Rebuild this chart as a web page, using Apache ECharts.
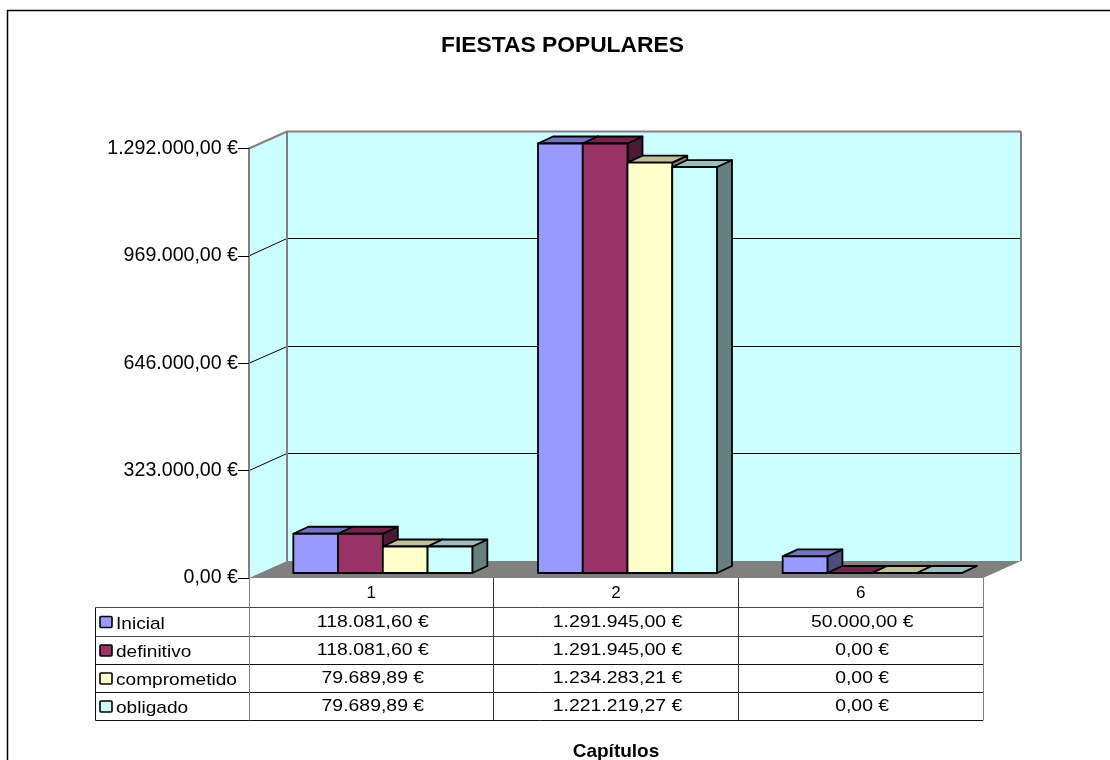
<!DOCTYPE html>
<html><head><meta charset="utf-8">
<style>html,body{margin:0;padding:0;background:#fff;overflow:hidden}#c{width:1110px;height:760px}</style>
<script src="https://cdn.jsdelivr.net/npm/echarts@6/dist/echarts.min.js"></script>
</head><body><div id="c"></div>
<script>
const chartTitle = 'FIESTAS POPULARES';
const axisTitle = 'Capítulos';
const categories = ['1', '2', '6'];
const inicial = [118081.60, 1291945.00, 50000.00];
const definitivo = [118081.60, 1291945.00, 0];
const comprometido = [79689.89, 1234283.21, 0];
const obligado = [79689.89, 1221219.27, 0];
const seriesNames = ['Inicial', 'definitivo', 'comprometido', 'obligado'];
const seriesColors = ['#9999FF', '#993366', '#FFFFCC', '#CCFFFF'];
const seriesValues = [inicial, definitivo, comprometido, obligado];
const yTicks = [0, 323000, 646000, 969000, 1292000];

const FONT = '"Liberation Sans", Arial, sans-serif';
const euro = v => v.toLocaleString('de-DE', {minimumFractionDigits: 2, maximumFractionDigits: 2}) + ' €';
const shade = (hex, k) => {
  const n = parseInt(hex.slice(1), 16);
  return 'rgb(' + [(n >> 16) & 255, (n >> 8) & 255, n & 255].map(c => Math.round(c * k)).join(',') + ')';
};
const snap = v => Math.floor(v) + 0.5;
// oblique projection of the 3D box
const DEPTH = [38, -17];
const BAR_DEPTH = [15, -7];
const BAR_BASE = [11.5, -5];
const BAR_SHARE = 0.7316;
const off = (p, d) => [p[0] + d[0], p[1] + d[1]];

function renderWalls(params, api) {
  const c = params.coordSys;
  const x0 = c.x, x1 = c.x + c.width;
  const yb = api.coord([0, 0])[1];
  const kids = [];
  const poly = (pts, fill, stroke, lw) => ({type: 'polygon', shape: {points: pts}, style: {fill, stroke: stroke || null, lineWidth: lw || 0}});
  const line = (a, b, stroke, lw) => ({type: 'polyline', shape: {points: [a, b]}, style: {fill: null, stroke, lineWidth: lw}});
  const top = api.coord([0, yTicks[yTicks.length - 1]])[1];
  const GREY = '#808080';
  kids.push(poly([[x0, yb], off([x0, yb], DEPTH), off([x0, top], DEPTH), [x0, top]], '#CCFFFF'));
  kids.push(poly([off([x0, yb], DEPTH), off([x1, yb], DEPTH), off([x1, top], DEPTH), off([x0, top], DEPTH)], '#CCFFFF'));
  kids.push(poly([[x0, yb], off([x0, yb], DEPTH), off([x1, yb], DEPTH), [x1, yb]], GREY));
  yTicks.forEach((t, i) => {
    const y = api.coord([0, t])[1];
    if (i === 0) return;
    const isTop = i === yTicks.length - 1;
    const col = isTop ? GREY : '#000';
    const w = isTop ? 2 : 1;
    const ys = isTop ? y : snap(y + DEPTH[1]) - DEPTH[1];
    kids.push(line([x0, y], off([x0, ys], DEPTH), col, w));
    kids.push(line(off([x0, ys], DEPTH), off([x1, ys], DEPTH), col, w));
  });
  kids.push(line(off([x0, yb], DEPTH), off([x0, top], DEPTH), GREY, 2));
  kids.push(line(off([x1, yb], DEPTH), off([x1, top], DEPTH), GREY, 2));
  return {type: 'group', children: kids};
}

function barRenderer(si) {
  return function (params, api) {
    const cat = api.value(0), val = api.value(1);
    const cw = api.size([1, 0])[0];
    const bw = cw * BAR_SHARE / seriesNames.length;
    const centre = api.coord([cat, 0]);
    const baseY = centre[1] + BAR_BASE[1];
    const left = centre[0] + BAR_BASE[0] - cw * BAR_SHARE / 2 + si * bw;
    const h = centre[1] - api.coord([cat, val])[1];
    const tl = [left, baseY - h], tr = [left + bw, baseY - h];
    const bl = [left, baseY], br = [left + bw, baseY];
    const col = seriesColors[si];
    const st = fill => ({fill, stroke: '#000', lineWidth: 1.8, lineJoin: 'round'});
    return {type: 'group', children: [
      {type: 'polygon', shape: {points: [tr, br, off(br, BAR_DEPTH), off(tr, BAR_DEPTH)]}, style: st(shade(col, 0.5))},
      {type: 'polygon', shape: {points: [tl, tr, off(tr, BAR_DEPTH), off(tl, BAR_DEPTH)]}, style: st(shade(col, 0.75))},
      {type: 'polygon', shape: {points: [bl, br, tr, tl]}, style: st(col)}
    ]};
  };
}

// data table under the plot
const ROW_Y = [607.5, 636.5, 664.5, 692.5, 720.5];
const TABLE_LEFT = 95.5;
const STRETCH = 1.17;
const NAME_STRETCH = 1.15;
function renderTable(params, api) {
  const c = params.coordSys;
  const x0 = c.x, x1 = c.x + c.width, yb = c.y + c.height;
  const kids = [];
  const line = (a, b, stroke) => ({type: 'polyline', shape: {points: [a, b]}, style: {fill: null, stroke, lineWidth: 1}});
  const txt = (t, x, y, align, sx) => ({type: 'text', x, y, scaleX: sx,
    style: {text: t, x: 0, y: 0, fill: '#000', font: '16.6px ' + FONT, align, verticalAlign: 'middle'}});
  ROW_Y.forEach((y, i) => kids.push(line([TABLE_LEFT, y], [x1, y], i < 2 ? '#444' : '#111')));
  kids.push(line([TABLE_LEFT, ROW_Y[0]], [TABLE_LEFT, ROW_Y[4]], '#111'));
  const cw = c.width / categories.length;
  for (let k = 0; k <= categories.length; k++) {
    const xs = snap(x0 + k * cw);
    kids.push(line([xs, yb], [xs, ROW_Y[4]], k === 0 || k === categories.length ? '#808080' : '#333'));
  }
  seriesNames.forEach((nm, r) => {
    const yc = (ROW_Y[r] + ROW_Y[r + 1]) / 2;
    kids.push({type: 'rect', shape: {x: 100, y: yc - 5.5, width: 12, height: 11, r: 1},
      style: {fill: seriesColors[r], stroke: '#000', lineWidth: 1.6}});
    kids.push(txt(nm, 116, yc + 2, 'left', NAME_STRETCH));
    categories.forEach((_, k) => {
      kids.push(txt(euro(seriesValues[r][k]), api.coord([k, 0])[0] + 1.5, yc, 'center', STRETCH));
    });
  });
  return {type: 'group', children: kids};
}

const chart = echarts.init(document.getElementById('c'), null, {renderer: 'canvas'});
const series = [
  {type: 'custom', name: 'walls', data: [[0, 0]], renderItem: renderWalls, silent: true, z: 1, clip: false},
  {type: 'custom', name: 'table', data: [[0, 0]], renderItem: renderTable, silent: true, z: 1, clip: false}
];
seriesNames.forEach((nm, si) => series.push({
  type: 'custom', name: nm, z: 2 + si, clip: false, silent: true,
  encode: {x: 0, y: 1},
  data: seriesValues[si].map((v, k) => [k, v]),
  renderItem: barRenderer(si)
}));

chart.setOption({
  animation: false,
  backgroundColor: '#fff',
  title: {text: chartTitle, left: 557.5, top: 29, textAlign: 'center',
    textStyle: {fontFamily: FONT, fontSize: 22.8, fontWeight: 'bold', color: '#000'}},
  grid: {left: 249, right: 127, top: 148.5, bottom: 182, containLabel: false, outerBoundsMode: 'none'},
  xAxis: {type: 'category', data: categories, boundaryGap: true, z: 0,
    name: axisTitle, nameLocation: 'middle', nameGap: 174,
    nameTextStyle: {fontFamily: FONT, fontSize: 19, fontWeight: 'bold', color: '#000', verticalAlign: 'middle'},
    axisLine: {show: false}, axisTick: {show: false}, splitLine: {show: false},
    axisLabel: {fontFamily: FONT, fontSize: 17, color: '#000', margin: 7}},
  yAxis: {type: 'value', min: 0, max: 1292000, interval: 323000, z: 10,
    axisLine: {show: true, lineStyle: {color: '#808080', width: 2}},
    axisTick: {show: true, length: 11, lineStyle: {color: '#000', width: 1}},
    splitLine: {show: false},
    axisLabel: {fontFamily: FONT, fontSize: 19.6, color: '#000', margin: 11, padding: [4, 0, 0, 0], formatter: v => euro(v)}},
  graphic: [
    {type: 'line', shape: {x1: 7, y1: 10.5, x2: 1110, y2: 10.5}, style: {stroke: '#000', lineWidth: 1.5}, silent: true},
    {type: 'line', shape: {x1: 7.5, y1: 10, x2: 7.5, y2: 760}, style: {stroke: '#000', lineWidth: 1.5}, silent: true}
  ],
  series
});
</script></body></html>
